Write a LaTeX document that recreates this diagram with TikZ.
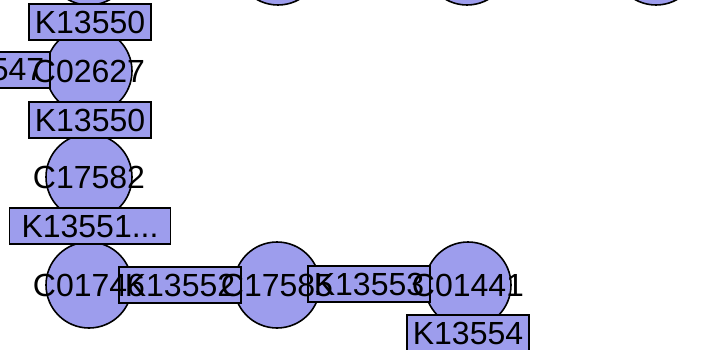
\documentclass[tikz,border=0pt]{standalone}
\usepackage{fontspec}
\setmainfont{Liberation Sans}
\definecolor{cpdfill}{RGB}{157,157,237}
\tikzset{
  cpd/.style={circle,draw,fill=cpdfill,line width=1.6pt,minimum size=86pt,inner sep=0pt},
  ko/.style={rectangle,draw,fill=cpdfill,line width=1.6pt,minimum height=36pt,inner xsep=6pt,inner ysep=0pt,font=\fontsize{32}{32}\selectfont},
  lbl/.style={font=\fontsize{32}{32}\selectfont,inner sep=0pt},
}
\begin{document}
\begin{tikzpicture}[x=1pt,y=-1pt]
        \useasboundingbox (0,0) rectangle (714,350);
        \clip (0,0) rectangle (714,350);
        \node [cpd] (c0) at (89,-38) {};
        \node [cpd] (c02627) at (89,71) {};
        \node [cpd] (c17582) at (89,177) {};
        \node [cpd] (c01746) at (89,285) {};
        \node [cpd] (c17585) at (277,285) {};
        \node [cpd] (c01441) at (468,285) {};
        \node [cpd] (r1) at (278,-38) {};
        \node [cpd] (r2) at (467,-38) {};
        \node [cpd] (r3) at (656,-38) {};
        \coordinate (w) at (-120,71);
        \coordinate (s) at (468,392);
        \draw [line width=1.6pt] (c0)--(c02627);
        \draw [line width=1.6pt] (c02627)--(c17582);
        \draw [line width=1.6pt] (c17582)--(c01746);
        \draw [line width=1.6pt] (c01746)--(c17585);
        \draw [line width=1.6pt] (c17585)--(c01441);
        \draw [line width=1.6pt] (c01441)--(s);
        \draw [line width=1.6pt] (c02627)--(w);
        \node [ko] (k0) at (90,22) {K13550};
        \node [ko,text width=110pt,align=right,anchor=east] (k1) at (51,70) {547};
        \node [ko] (k2) at (90,120) {K13550};
        \node [ko,minimum width=161pt] (k3) at (90,226) {K13551...};
        \node [ko] (k4) at (180,285) {K13552};
        \node [ko] (k5) at (369,284) {K13553};
        \node [ko] (k6) at (468,333) {K13554};
        \node [lbl] (t02627) at (c02627) {C02627};
        \node [lbl] (t17582) at (c17582) {C17582};
        \node [lbl] (t01746) at (c01746) {C01746};
        \node [lbl] (t17585) at (c17585) {C17585};
        \node [lbl] (t01441) at (c01441) {C01441};
\end{tikzpicture}
\end{document}
